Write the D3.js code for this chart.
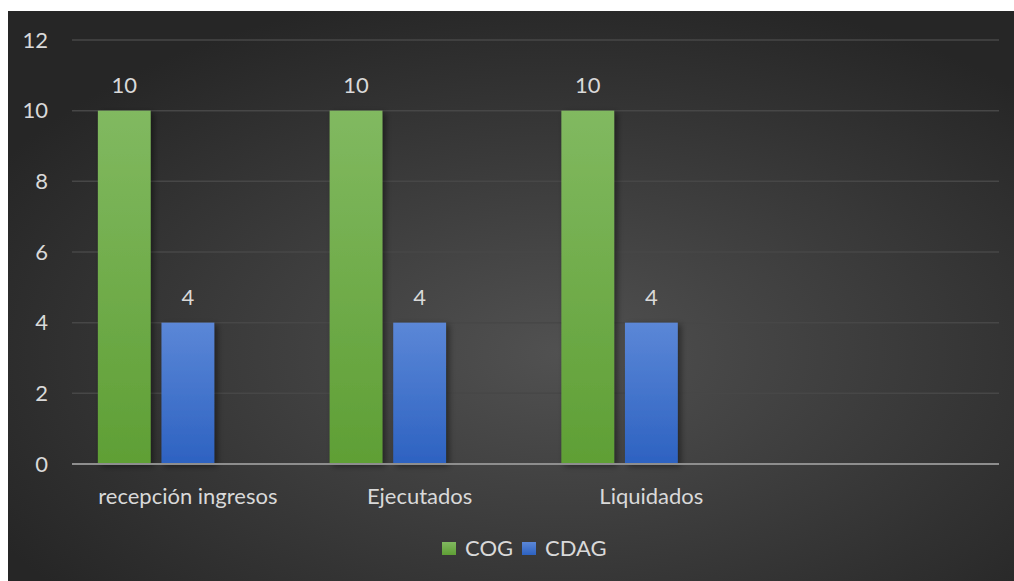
<!DOCTYPE html>
<html lang="es">
<head>
  <meta charset="UTF-8">
  <title>COG / CDAG</title>
  <script src="https://d3js.org/d3.v7.min.js"></script>
  <style>
    body { margin: 0; background: #fff; }
    svg { display: block; font-family: Lato, "Open Sans", sans-serif; }
  </style>
</head>
<body>
  <div id="chart"></div>
  <script>
    // chart data
    const categories = ["recepción ingresos", "Ejecutados", "Liquidados", ""];
    const seriesNames = ["COG", "CDAG"];
    const cogValues = [10, 10, 10, null];
    const cdagValues = [4, 4, 4, null];
    const yTicks = [0, 2, 4, 6, 8, 10, 12];

    const width = 1014;
    const height = 581;
    const plot = { left: 72, right: 999, top: 40, bottom: 464 };
    const fontSize = 22;

    const svg = d3.select("#chart").append("svg")
      .attr("width", width)
      .attr("height", height);

    const defs = svg.append("defs");

    const bg = defs.append("radialGradient")
      .attr("id", "bg")
      .attr("cx", "55%").attr("cy", "60%").attr("r", "65%");
    bg.append("stop").attr("offset", "0%").attr("stop-color", "#515151");
    bg.append("stop").attr("offset", "100%").attr("stop-color", "#262626");

    function barGrad(id, top, bottom) {
      const g = defs.append("linearGradient").attr("id", id)
        .attr("x1", 0).attr("y1", 0).attr("x2", 0).attr("y2", 1);
      g.append("stop").attr("offset", "0%").attr("stop-color", top);
      g.append("stop").attr("offset", "100%").attr("stop-color", bottom);
    }
    barGrad("g-COG", "#81b960", "#5f9f35");
    barGrad("g-CDAG", "#5b87d7", "#2d62c1");

    const shadow = defs.append("filter").attr("id", "shadow")
      .attr("x", "-20%").attr("y", "-10%").attr("width", "160%").attr("height", "130%");
    shadow.append("feDropShadow")
      .attr("dx", 3).attr("dy", 2).attr("stdDeviation", 3)
      .attr("flood-color", "#000").attr("flood-opacity", 0.45);

    svg.append("rect")
      .attr("x", 8).attr("y", 11)
      .attr("width", width - 8).attr("height", height - 11)
      .attr("fill", "url(#bg)");

    const x = d3.scaleBand()
      .domain(categories.map((c, i) => i))
      .range([plot.left, plot.right]);

    // Excel reserves a third (empty) slot in each group
    const slots = d3.scaleBand()
      .domain([0, 1, 2])
      .range([0, 180])
      .paddingInner(0.17);
    const groupOffset = (x.bandwidth() - 180) / 2;

    const y = d3.scaleLinear()
      .domain([0, 12])
      .range([plot.bottom, plot.top]);

    // gridlines
    svg.append("g")
      .selectAll("line")
      .data(yTicks.filter(t => t > 0))
      .join("line")
      .attr("x1", plot.left).attr("x2", plot.right)
      .attr("y1", d => y(d)).attr("y2", d => y(d))
      .attr("stroke", "#474747")
      .attr("stroke-width", 1.5);

    // y tick labels
    svg.append("g")
      .selectAll("text")
      .data(yTicks)
      .join("text")
      .attr("x", 48)
      .attr("y", d => y(d))
      .attr("dy", "0.35em")
      .attr("text-anchor", "end")
      .attr("fill", "#d9d9d9")
      .attr("font-size", fontSize)
      .text(d => d);

    const series = [
      { name: seriesNames[0], values: cogValues },
      { name: seriesNames[1], values: cdagValues }
    ];

    series.forEach((s, si) => {
      const data = s.values.map((v, i) => ({ i, v })).filter(d => d.v !== null);
      const gx = d => x(d.i) + groupOffset + slots(si);

      svg.append("g")
        .attr("filter", "url(#shadow)")
        .selectAll("rect")
        .data(data)
        .join("rect")
        .attr("x", gx)
        .attr("y", d => y(d.v))
        .attr("width", slots.bandwidth())
        .attr("height", d => y(0) - y(d.v))
        .attr("fill", `url(#g-${s.name})`);

      svg.append("g")
        .selectAll("text")
        .data(data)
        .join("text")
        .attr("x", d => gx(d) + slots.bandwidth() / 2)
        .attr("y", d => y(d.v) - 18)
        .attr("text-anchor", "middle")
        .attr("fill", "#d9d9d9")
        .attr("font-size", fontSize)
        .text(d => d.v);
    });

    // baseline
    svg.append("line")
      .attr("x1", plot.left).attr("x2", plot.right)
      .attr("y1", y(0)).attr("y2", y(0))
      .attr("stroke", "#8e8e8e")
      .attr("stroke-width", 2);

    // category labels
    svg.append("g")
      .selectAll("text")
      .data(categories)
      .join("text")
      .attr("x", (d, i) => x(i) + groupOffset + 90)
      .attr("y", 504)
      .attr("text-anchor", "middle")
      .attr("fill", "#d9d9d9")
      .attr("font-size", fontSize)
      .text(d => d);

    // legend
    const legend = svg.append("g").attr("transform", "translate(442, 542)");
    const legendX = [0, 80];
    seriesNames.forEach((n, i) => {
      legend.append("rect")
        .attr("x", legendX[i]).attr("y", 0)
        .attr("width", 14).attr("height", 13)
        .attr("fill", `url(#g-${n})`);
      legend.append("text")
        .attr("x", legendX[i] + 23).attr("y", 14)
        .attr("fill", "#d9d9d9")
        .attr("font-size", fontSize)
        .text(n);
    });
  </script>
</body>
</html>
